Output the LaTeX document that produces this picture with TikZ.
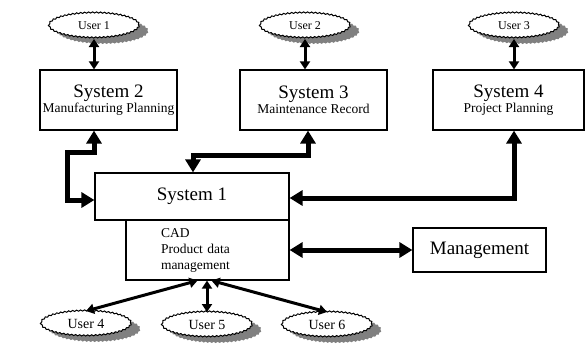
\documentclass[tikz,border=0pt]{standalone}
\usepackage{fontspec}
\setmainfont{Liberation Serif}
\usetikzlibrary{arrows.meta,shapes.geometric,shadows,decorations.pathmorphing}

\begin{document}
\begin{tikzpicture}[x=1pt,y=-1pt,
box/.style={draw,line width=1.2pt,inner sep=0pt,align=center},
user/.style={ellipse,draw,fill=white,line width=1pt,minimum width=90pt,minimum height=25pt,inner sep=0pt,
  decorate,decoration={snake,segment length=4pt,amplitude=0.6pt},
  drop shadow={shadow xshift=9pt,shadow yshift=-6pt,fill=black!50,opacity=1}},
uarrow/.style={{Triangle[length=8pt,width=10pt]}-{Triangle[length=8pt,width=10pt]},line width=3pt},
link/.style={{Triangle[length=13pt,width=15pt]}-{Triangle[length=13pt,width=15pt]},line width=5pt}]
\useasboundingbox (0,0) rectangle (586,349);
% users on top
\node[user,font=\fontsize{12}{14}\selectfont] (user1) at (94,26) {User 1};
\node[user,font=\fontsize{12}{14}\selectfont] (user2) at (305,26) {User 2};
\node[user,font=\fontsize{12}{14}\selectfont] (user3) at (514,26) {User 3};
% systems
\node[box,minimum width=137pt,minimum height=60pt] (sys2) at (108.5,100)
  {{\fontsize{19}{21}\selectfont System 2}\\[1pt]{\fontsize{13.5}{15}\selectfont Manufacturing Planning}};
\node[box,minimum width=147pt,minimum height=60pt] (sys3) at (313.5,100)
  {{\fontsize{19}{21}\selectfont System 3}\\[1pt]{\fontsize{13.5}{15}\selectfont Maintenance Record}};
\node[box,minimum width=151pt,minimum height=60pt] (sys4) at (508.5,100)
  {{\fontsize{19}{21}\selectfont System 4}\\[1pt]{\fontsize{13.5}{15}\selectfont Project Planning}};
\node[box,minimum width=194pt,minimum height=47pt,font=\fontsize{19}{21}\selectfont] (sys1) at (192,196.5) {System 1};
\node[box,minimum height=60pt,inner xsep=35pt,text width=93pt,align=left,font=\fontsize{13.5}{16}\selectfont]
  (cad) at (207.5,250) {CAD\\Product data\\management};
\node[box,minimum width=133pt,minimum height=44pt,font=\fontsize{19}{21}\selectfont] (mgmt) at (479.5,250) {Management};
% users below
\node[user,font=\fontsize{14}{16}\selectfont] (user4) at (86,324) {User 4};
\node[user,font=\fontsize{14}{16}\selectfont] (user5) at (207,325) {User 5};
\node[user,font=\fontsize{14}{16}\selectfont] (user6) at (327,325) {User 6};
% user links
\draw[uarrow] (user1) -- (user1 |- sys2.north);
\draw[uarrow] (user2) -- (user2 |- sys3.north);
\draw[uarrow] (user3) -- (user3 |- sys4.north);
\draw[uarrow] ([xshift=-10pt]cad.south) -- (user4.north);
\draw[uarrow] (cad.south -| user5) -- (user5.north);
\draw[uarrow] ([xshift=4pt]cad.south) -- (user6.north);
% system links
\draw[link] (sys2.south -| user1) |- (67,152) |- ([yshift=-3.5pt]sys1.west);
\draw[link] ([xshift=1pt]sys1.north) |- (308,155) -- (sys3.south -| 308,0);
\draw[link] (sys4.south -| user3) |- ([yshift=-1.5pt]sys1.east);
\draw[link] (cad) -- (mgmt);
\end{tikzpicture}
\end{document}
